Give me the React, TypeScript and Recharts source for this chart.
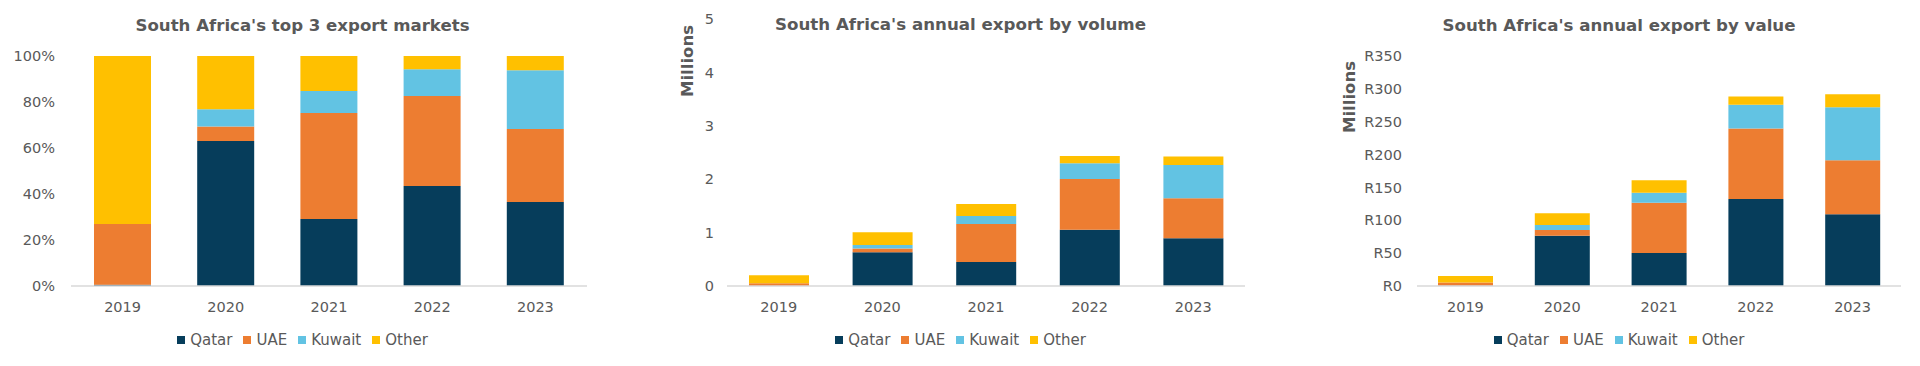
import React from 'react';
import { BarChart, Bar, XAxis, YAxis, Legend } from 'recharts';

const years = ['2019', '2020', '2021', '2022', '2023'];
const seriesNames = ['Qatar', 'UAE', 'Kuwait', 'Other'];
const seriesColors = ['#063D5B', '#ED7D31', '#62C3E3', '#FFC000'];

// Chart 1: share of exports (%)
const shareQatar = [0.5, 63, 29.1, 43.5, 36.5];
const shareUAE = [26.5, 6.3, 46.1, 39.1, 31.8];
const shareKuwait = [0, 7.5, 9.6, 11.6, 25.5];
const shareOther = [73, 23.2, 15.2, 5.8, 6.2];
const shareTicks = [0, 20, 40, 60, 80, 100];

// Chart 2: volume (millions)
const volQatar = [0.001, 0.63, 0.45, 1.055, 0.893];
const volUAE = [0.05, 0.07, 0.71, 0.95, 0.75];
const volKuwait = [0, 0.07, 0.15, 0.293, 0.624];
const volOther = [0.15, 0.235, 0.225, 0.137, 0.156];
const volTicks = [0, 1, 2, 3, 4, 5];

// Chart 3: value (R millions)
const valQatar = [0.2, 76.6, 50.2, 132.4, 109];
const valUAE = [5, 8.6, 76.6, 107.1, 82.3];
const valKuwait = [0, 7.6, 15.2, 36.5, 80.7];
const valOther = [10, 17.8, 18.8, 12.2, 19.7];
const valTicks = [0, 50, 100, 150, 200, 250, 300, 350];

const titles = [
  "South Africa's top 3 export markets",
  "South Africa's annual export by volume",
  "South Africa's annual export by value",
];

const FONT = "'DejaVu Sans', Verdana, sans-serif";
const TEXT = '#595959';

function build(q: number[], u: number[], k: number[], o: number[]) {
  return years.map((y, i) => ({ year: y, Qatar: q[i], UAE: u[i], Kuwait: k[i], Other: o[i] }));
}

const shareData = build(shareQatar, shareUAE, shareKuwait, shareOther);
const volData = build(volQatar, volUAE, volKuwait, volOther);
const valData = build(valQatar, valUAE, valKuwait, valOther);

function LegendContent(props: any) {
  const payload: any[] = (props.payload || []).slice().sort(
    (a: any, b: any) => seriesNames.indexOf(a.value) - seriesNames.indexOf(b.value)
  );
  return (
    <div
      style={{
        display: 'flex',
        justifyContent: 'center',
        alignItems: 'center',
        fontFamily: FONT,
        fontSize: 15,
        color: TEXT,
        whiteSpace: 'nowrap',
      }}
    >
      {payload.map((e: any, i: number) => (
        <span
          key={e.value}
          style={{ display: 'inline-flex', alignItems: 'center', marginRight: i < payload.length - 1 ? 11 : 0 }}
        >
          <svg width={8} height={8} style={{ marginRight: 5 }}>
            <rect x={0} y={0} width={8} height={8} fill={e.color} />
          </svg>
          <span>{e.value}</span>
        </span>
      ))}
    </div>
  );
}

type ChartProps = {
  data: any[];
  left: number;
  width: number;
  margin: { top: number; right: number; bottom: number; left: number };
  yWidth: number;
  ticks: number[];
  fmt: (v: number) => string;
  barSize: number;
  tickMargin: number;
};

function StackChart(p: ChartProps) {
  return (
    <div style={{ position: 'absolute', left: p.left, top: 0 }}>
      <BarChart width={p.width} height={366} data={p.data} margin={p.margin}>
        <XAxis
          dataKey="year"
          height={30}
          tickLine={false}
          axisLine={{ stroke: '#D9D9D9', strokeWidth: 1.5 }}
          tick={{ fill: TEXT, fontSize: 14.5, fontFamily: FONT }}
          tickMargin={10}
          interval={0}
        />
        <YAxis
          width={p.yWidth}
          domain={[p.ticks[0], p.ticks[p.ticks.length - 1]]}
          ticks={p.ticks}
          tickFormatter={p.fmt}
          axisLine={false}
          tickLine={false}
          tickMargin={p.tickMargin}
          tick={{ fill: TEXT, fontSize: 14.5, fontFamily: FONT }}
          interval={0}
        />
        <Legend
          verticalAlign="middle"
          align="center"
          layout="horizontal"
          wrapperStyle={{ top: 331, left: 0, width: p.width }}
          content={<LegendContent />}
        />
        {seriesNames.map((n, i) => (
          <Bar
            key={n}
            dataKey={n}
            stackId="a"
            fill={seriesColors[i]}
            barSize={p.barSize}
            isAnimationActive={false}
          />
        ))}
      </BarChart>
    </div>
  );
}

export default function App() {
  return (
    <div
      style={{
        position: 'absolute',
        left: 0,
        top: 0,
        width: 1920,
        height: 366,
        background: '#ffffff',
        overflow: 'hidden',
      }}
    >
      <StackChart
        data={shareData}
        left={0}
        width={605}
        margin={{ top: 56, right: 18, bottom: 50, left: 0 }}
        yWidth={71}
        ticks={shareTicks}
        fmt={(v) => `${v}%`}
        barSize={57}
        tickMargin={10}
      />
      <StackChart
        data={volData}
        left={640}
        width={641}
        margin={{ top: 19, right: 36, bottom: 50, left: 0 }}
        yWidth={87}
        ticks={volTicks}
        fmt={(v) => `${v}`}
        barSize={60}
        tickMargin={7}
      />
      <StackChart
        data={valData}
        left={1280}
        width={678}
        margin={{ top: 56, right: 57, bottom: 50, left: 0 }}
        yWidth={137}
        ticks={valTicks}
        fmt={(v) => `R${v}`}
        barSize={55}
        tickMargin={9}
      />
      <svg
        width={1920}
        height={366}
        style={{ position: 'absolute', left: 0, top: 0, pointerEvents: 'none' }}
      >
        <text x={302.5} y={31} textAnchor="middle" fontFamily={FONT} fontWeight="bold" fontSize={16.5} fill={TEXT} textLength={334} lengthAdjust="spacingAndGlyphs">
          {titles[0]}
        </text>
        <text x={960.5} y={29.5} textAnchor="middle" fontFamily={FONT} fontWeight="bold" fontSize={16.5} fill={TEXT} textLength={371} lengthAdjust="spacingAndGlyphs">
          {titles[1]}
        </text>
        <text x={1619} y={31} textAnchor="middle" fontFamily={FONT} fontWeight="bold" fontSize={16.5} fill={TEXT} textLength={353} lengthAdjust="spacingAndGlyphs">
          {titles[2]}
        </text>
        <text x={693} y={61} textAnchor="middle" transform="rotate(-90 693 61)" fontFamily={FONT} fontWeight="bold" fontSize={16.5} fill={TEXT}>
          Millions
        </text>
        <text x={1355} y={97} textAnchor="middle" transform="rotate(-90 1355 97)" fontFamily={FONT} fontWeight="bold" fontSize={16.5} fill={TEXT}>
          Millions
        </text>
      </svg>
    </div>
  );
}
